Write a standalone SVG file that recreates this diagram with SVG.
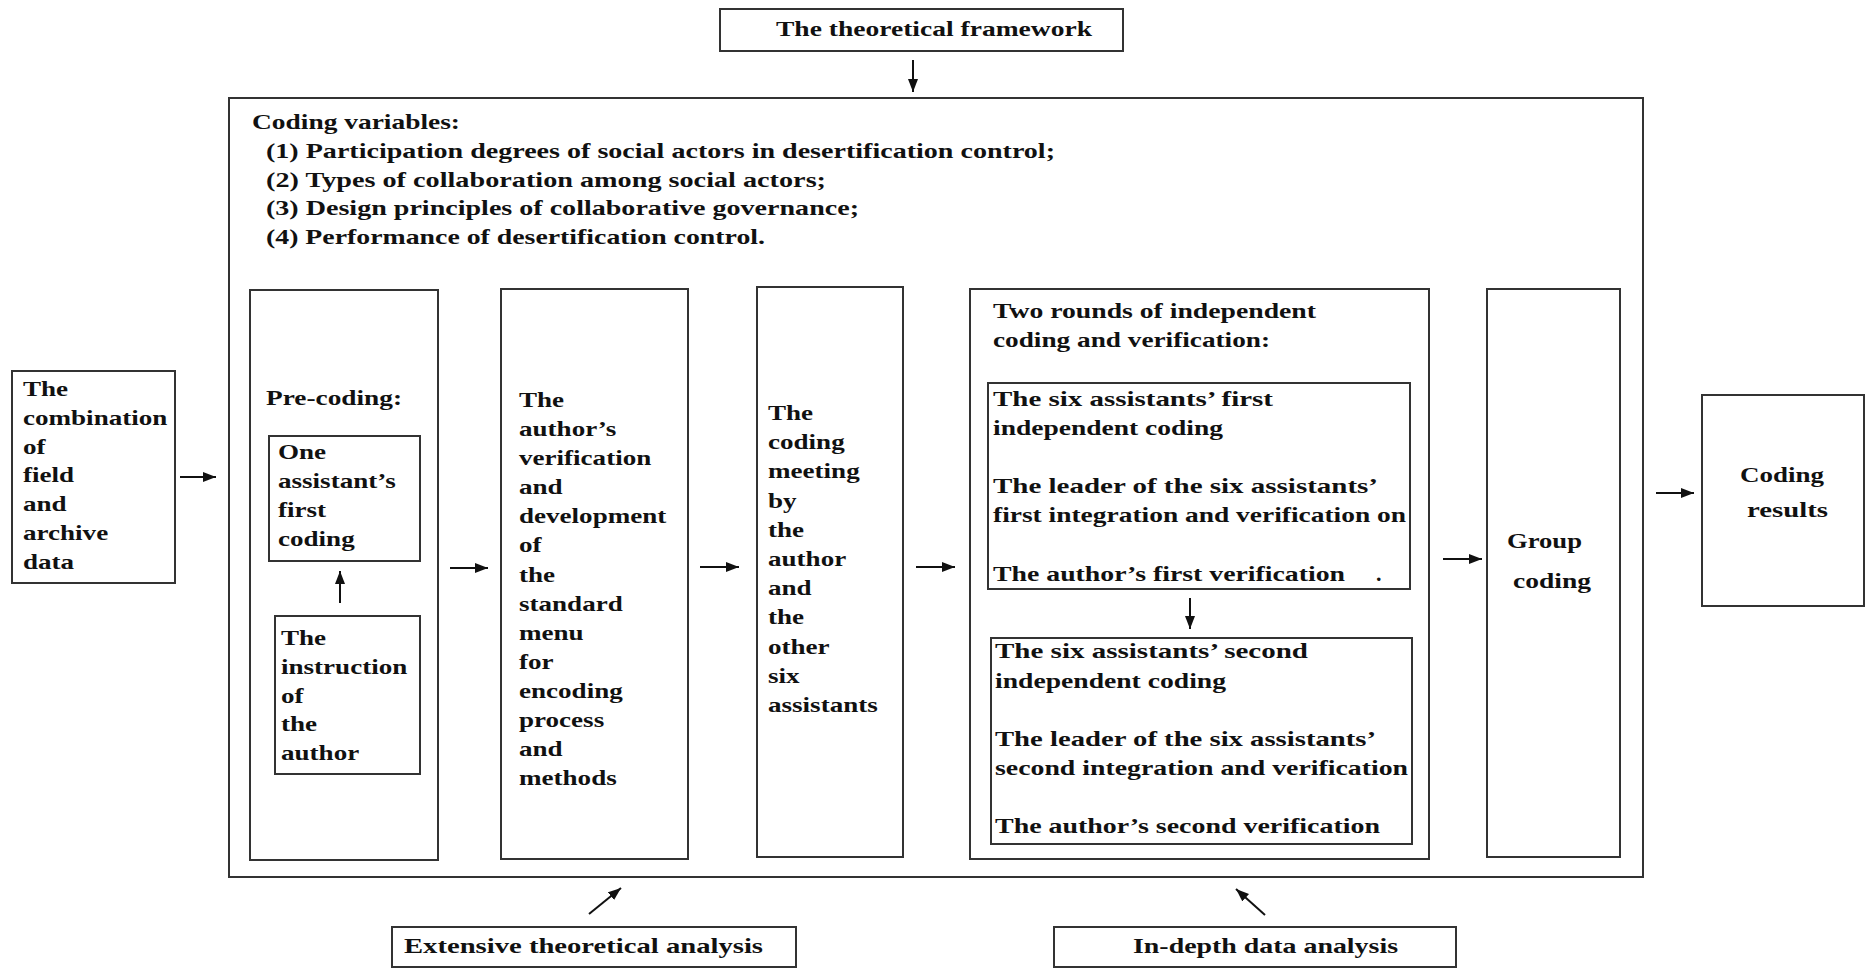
<svg xmlns="http://www.w3.org/2000/svg" width="1866" height="969" viewBox="0 0 1866 969">
<style>
.box{fill:none;stroke:#333;stroke-width:2}
.t{font-family:"Liberation Serif","Times New Roman",serif;font-weight:bold;font-size:22px;fill:#111}
.c{stroke:#111;stroke-width:2;fill:none;marker-end:url(#ah)}
</style>
<defs>
<marker id="ah" markerUnits="userSpaceOnUse" markerWidth="14" markerHeight="12" refX="13" refY="5" orient="auto">
<path d="M0,0 L13,5 L0,10 Z" fill="#111"/>
</marker>
</defs>
<rect width="1866" height="969" fill="#fff"/>

<g id="framework">
<rect class="box" x="720" y="9" width="403" height="42"/>
<text class="t" x="776" y="36" textLength="316" lengthAdjust="spacingAndGlyphs">The theoretical framework</text>
</g>

<g id="main">
<rect class="box" x="229" y="98" width="1414" height="779"/>
<text class="t" x="252" y="129" textLength="208" lengthAdjust="spacingAndGlyphs">Coding variables:</text>
<text class="t" x="266" y="158" textLength="789" lengthAdjust="spacingAndGlyphs">(1) Participation degrees of social actors in desertification control;</text>
<text class="t" x="266" y="187" textLength="560" lengthAdjust="spacingAndGlyphs">(2) Types of collaboration among social actors;</text>
<text class="t" x="266" y="215" textLength="593" lengthAdjust="spacingAndGlyphs">(3) Design principles of collaborative governance;</text>
<text class="t" x="266" y="244" textLength="499" lengthAdjust="spacingAndGlyphs">(4) Performance of desertification control.</text>
</g>

<g id="source">
<rect class="box" x="12" y="371" width="163" height="212"/>
<g transform="translate(23 0) scale(1.23 1)">
<text class="t"><tspan x="0" y="396">The</tspan><tspan x="0" y="424.8">combination</tspan><tspan x="0" y="453.6">of</tspan><tspan x="0" y="482.4">field</tspan><tspan x="0" y="511.2">and</tspan><tspan x="0" y="540">archive</tspan><tspan x="0" y="568.8">data</tspan></text>
</g>
</g>

<g id="precoding">
<rect class="box" x="250" y="290" width="188" height="570"/>
<text class="t" x="266" y="405" textLength="136" lengthAdjust="spacingAndGlyphs">Pre-coding:</text>
</g>

<g id="first-coding">
<rect class="box" x="269" y="436" width="151" height="125"/>
<g transform="translate(278 0) scale(1.23 1)">
<text class="t"><tspan x="0" y="459">One</tspan><tspan x="0" y="488">assistant’s</tspan><tspan x="0" y="517">first</tspan><tspan x="0" y="546">coding</tspan></text>
</g>
</g>

<g id="instruction">
<rect class="box" x="275" y="616" width="145" height="158"/>
<g transform="translate(281 0) scale(1.23 1)">
<text class="t"><tspan x="0" y="645">The</tspan><tspan x="0" y="673.8">instruction</tspan><tspan x="0" y="702.6">of</tspan><tspan x="0" y="731.4">the</tspan><tspan x="0" y="760.2">author</tspan></text>
</g>
</g>

<g id="verification">
<rect class="box" x="501" y="289" width="187" height="570"/>
<g transform="translate(519 0) scale(1.23 1)">
<text class="t"><tspan x="0" y="407">The</tspan><tspan x="0" y="436.1">author’s</tspan><tspan x="0" y="465.2">verification</tspan><tspan x="0" y="494.3">and</tspan><tspan x="0" y="523.4">development</tspan><tspan x="0" y="552.5">of</tspan><tspan x="0" y="581.6">the</tspan><tspan x="0" y="610.7">standard</tspan><tspan x="0" y="639.8">menu</tspan><tspan x="0" y="668.9">for</tspan><tspan x="0" y="698">encoding</tspan><tspan x="0" y="727.1">process</tspan><tspan x="0" y="756.2">and</tspan><tspan x="0" y="785.3">methods</tspan></text>
</g>
</g>

<g id="meeting">
<rect class="box" x="757" y="287" width="146" height="570"/>
<g transform="translate(768 0) scale(1.23 1)">
<text class="t"><tspan x="0" y="420">The</tspan><tspan x="0" y="449.2">coding</tspan><tspan x="0" y="478.4">meeting</tspan><tspan x="0" y="507.6">by</tspan><tspan x="0" y="536.8">the</tspan><tspan x="0" y="566">author</tspan><tspan x="0" y="595.2">and</tspan><tspan x="0" y="624.4">the</tspan><tspan x="0" y="653.6">other</tspan><tspan x="0" y="682.8">six</tspan><tspan x="0" y="712">assistants</tspan></text>
</g>
</g>

<g id="two-rounds">
<rect class="box" x="970" y="289" width="459" height="570"/>
<text class="t" x="993" y="318" textLength="323" lengthAdjust="spacingAndGlyphs">Two rounds of independent</text>
<text class="t" x="993" y="347" textLength="277" lengthAdjust="spacingAndGlyphs">coding and verification:</text>
</g>

<g id="round1">
<rect class="box" x="988" y="383" width="422" height="206"/>
<text class="t" x="993" y="406" textLength="280" lengthAdjust="spacingAndGlyphs">The six assistants’ first</text>
<text class="t" x="993" y="435" textLength="230" lengthAdjust="spacingAndGlyphs">independent coding</text>
<text class="t" x="993" y="493" textLength="385" lengthAdjust="spacingAndGlyphs">The leader of the six assistants’</text>
<text class="t" x="993" y="522" textLength="413" lengthAdjust="spacingAndGlyphs">first integration and verification on</text>
<text class="t" x="993" y="581" textLength="352" lengthAdjust="spacingAndGlyphs">The author’s first verification</text>
<text class="t" x="1376" y="581" font-size="12">.</text>
</g>

<g id="round2">
<rect class="box" x="991" y="638" width="421" height="206"/>
<text class="t" x="995" y="658" textLength="313" lengthAdjust="spacingAndGlyphs">The six assistants’ second</text>
<text class="t" x="995" y="688" textLength="231" lengthAdjust="spacingAndGlyphs">independent coding</text>
<text class="t" x="995" y="746" textLength="381" lengthAdjust="spacingAndGlyphs">The leader of the six assistants’</text>
<text class="t" x="995" y="775" textLength="413" lengthAdjust="spacingAndGlyphs">second integration and verification</text>
<text class="t" x="995" y="833" textLength="385" lengthAdjust="spacingAndGlyphs">The author’s second verification</text>
</g>

<g id="group-coding">
<rect class="box" x="1487" y="289" width="133" height="568"/>
<text class="t" x="1507" y="548" textLength="75" lengthAdjust="spacingAndGlyphs">Group</text>
<text class="t" x="1513" y="588" textLength="78" lengthAdjust="spacingAndGlyphs">coding</text>
</g>

<g id="results">
<rect class="box" x="1702" y="395" width="162" height="211"/>
<text class="t" x="1740" y="482" textLength="84" lengthAdjust="spacingAndGlyphs">Coding</text>
<text class="t" x="1747" y="517" textLength="81" lengthAdjust="spacingAndGlyphs">results</text>
</g>

<g id="extensive">
<rect class="box" x="392" y="927" width="404" height="40"/>
<text class="t" x="404" y="953" textLength="359" lengthAdjust="spacingAndGlyphs">Extensive theoretical analysis</text>
</g>

<g id="indepth">
<rect class="box" x="1054" y="927" width="402" height="40"/>
<text class="t" x="1133" y="953" textLength="265" lengthAdjust="spacingAndGlyphs">In-depth data analysis</text>
</g>

<g id="connectors">
<line class="c" x1="913" y1="60" x2="913" y2="92"/>
<line class="c" x1="180" y1="477" x2="216" y2="477"/>
<line class="c" x1="450" y1="568" x2="488" y2="568"/>
<line class="c" x1="700" y1="567" x2="739" y2="567"/>
<line class="c" x1="916" y1="567" x2="955" y2="567"/>
<line class="c" x1="340" y1="603" x2="340" y2="571"/>
<line class="c" x1="1190" y1="598" x2="1190" y2="629"/>
<line class="c" x1="1443" y1="559" x2="1482" y2="559"/>
<line class="c" x1="1656" y1="493" x2="1694" y2="493"/>
<line class="c" x1="589" y1="914" x2="621" y2="888"/>
<line class="c" x1="1265" y1="915" x2="1236" y2="889"/>
</g>
</svg>
